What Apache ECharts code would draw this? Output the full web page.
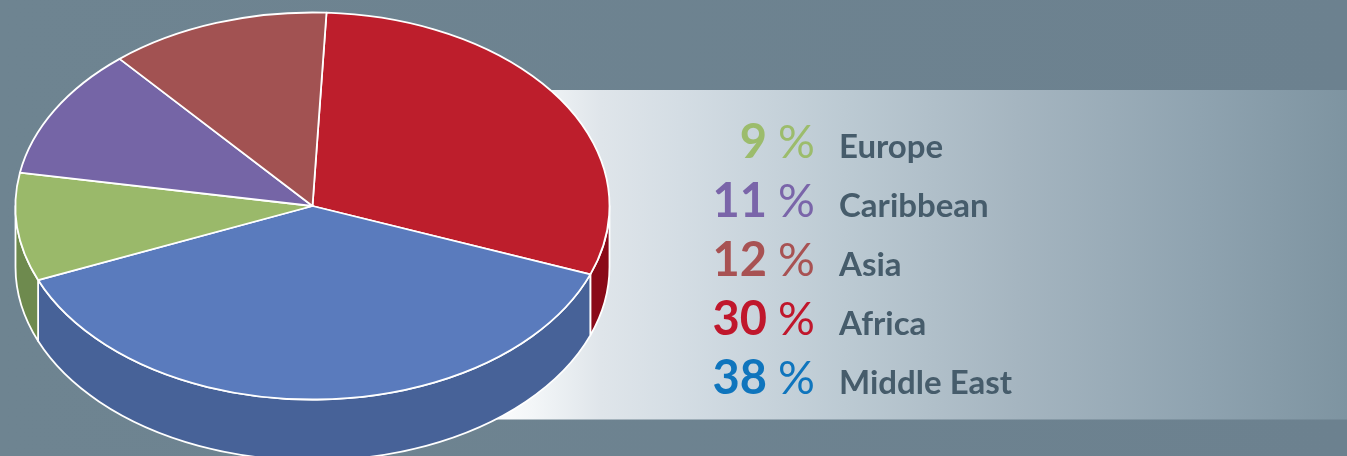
<!DOCTYPE html>
<html>
<head>
<meta charset="utf-8">
<title>Share by region</title>
<style>
  html, body { margin: 0; padding: 0; background: #6c8290; }
  #chart { width: 1347px; height: 456px; }
</style>
<script src="https://cdn.jsdelivr.net/npm/echarts@6/dist/echarts.min.js"></script>
</head>
<body>
<div id="chart"></div>
<script>
// slices, clockwise from the top of the pie
var categories = ['Africa', 'Middle East', 'Europe', 'Caribbean', 'Asia']
var shares = [30, 38, 9, 11, 12]
var topColors = ['#bd1e2c', '#5a7bbd', '#9ab96a', '#7565a6', '#a25252']
var wallColors = ['#8a0a18', '#476298', '#6e8a4e', '#5a4c80', '#7c3e3e']
var numberColors = ['#c0172c', '#0f75bd', '#9cbc6c', '#7a65a9', '#a85253']
// legend rows, top to bottom
var legendOrder = ['Europe', 'Caribbean', 'Asia', 'Africa', 'Middle East']

// pie geometry
var cx = 312.5
var cy = 206
var rx = 297
var ry = 193.5
var depth = 61
var startAngle = 2.7
var total = shares.reduce(function(a, b) { return a + b }, 0)

function pt(deg, dy) {
  var r = deg * Math.PI / 180
  return (cx + rx * Math.sin(r)).toFixed(2) + ' ' + (cy - ry * Math.cos(r) + (dy || 0)).toFixed(2)
}

function topPath(a, b) {
  var large = b - a > 180 ? 1 : 0
  return 'M' + cx + ' ' + cy + 'L' + pt(a) + 'A' + rx + ' ' + ry + ' 0 ' + large + ' 1 ' + pt(b) + 'Z'
}

// only the front half of the rim (90..270 deg from the top) can be seen
function wallPath(a, b) {
  var from = Math.max(a, 90)
  var to = Math.min(b, 270)
  if (to <= from) {
    return null
  }
  return 'M' + pt(from) + 'A' + rx + ' ' + ry + ' 0 0 1 ' + pt(to) + 'L' + pt(to, depth) +
    'A' + rx + ' ' + ry + ' 0 0 0 ' + pt(from, depth) + 'Z'
}

function renderSlice(params, api) {
  var i = params.dataIndex
  var before = 0
  for (var k = 0; k < i; k++) {
    before += shares[k]
  }
  var a = startAngle + before / total * 360
  var b = a + api.value(0) / total * 360
  var line = { stroke: '#fff', lineWidth: 1.8, lineJoin: 'round' }
  var children = []
  var wall = wallPath(a, b)
  if (wall) {
    children.push({
      type: 'path',
      shape: { pathData: wall },
      style: Object.assign({ fill: wallColors[i] }, line)
    })
  }
  children.push({
    type: 'path',
    shape: { pathData: topPath(a, b) },
    style: Object.assign({ fill: topColors[i] }, line)
  })
  return { type: 'group', children: children }
}

var rowTop = 157
var rowStep = 59
var legendText = []
legendOrder.forEach(function(name, row) {
  var i = categories.indexOf(name)
  var y = rowTop + row * rowStep
  legendText.push({
    type: 'text', z: 5, x: 767, y: y + 9,
    style: { text: String(shares[i]), fill: numberColors[i], font: '700 47px Lato', textAlign: 'right', textVerticalAlign: 'bottom' }
  })
  legendText.push({
    type: 'text', z: 5, x: 778, y: y + 9,
    style: { text: '%', fill: numberColors[i], font: '400 46px Lato', textAlign: 'left', textVerticalAlign: 'bottom' }
  })
  legendText.push({
    type: 'text', z: 5, x: 839, y: y + 6.5,
    style: { text: name, fill: '#465c6b', font: '700 33px Lato', textAlign: 'left', textVerticalAlign: 'bottom' }
  })
})

var chart = echarts.init(document.getElementById('chart'))
chart.setOption({
  animation: false,
  backgroundColor: {
    type: 'linear', x: 0, y: 0, x2: 1, y2: 0,
    colorStops: [{ offset: 0, color: '#6e8491' }, { offset: 1, color: '#6c818f' }]
  },
  graphic: [{
    type: 'rect',
    z: -1,
    shape: { x: 480, y: 90, width: 867, height: 329.5 },
    style: {
      fill: {
        type: 'linear', x: 0, y: 0, x2: 1, y2: 0,
        colorStops: [
          { offset: 0, color: '#ffffff' },
          { offset: 0.06, color: '#f3f6f8' },
          { offset: 0.14, color: '#dfe5ea' },
          { offset: 0.23, color: '#d4dde4' },
          { offset: 0.42, color: '#bccad3' },
          { offset: 0.62, color: '#a5b5c0' },
          { offset: 0.83, color: '#8fa3b0' },
          { offset: 1, color: '#7e94a1' }
        ]
      }
    }
  }].concat(legendText),
  series: [{
    type: 'custom',
    coordinateSystem: 'none',
    silent: true,
    renderItem: renderSlice,
    data: shares.map(function(v, i) { return { name: categories[i], value: [v] } })
  }]
})
</script>
</body>
</html>
